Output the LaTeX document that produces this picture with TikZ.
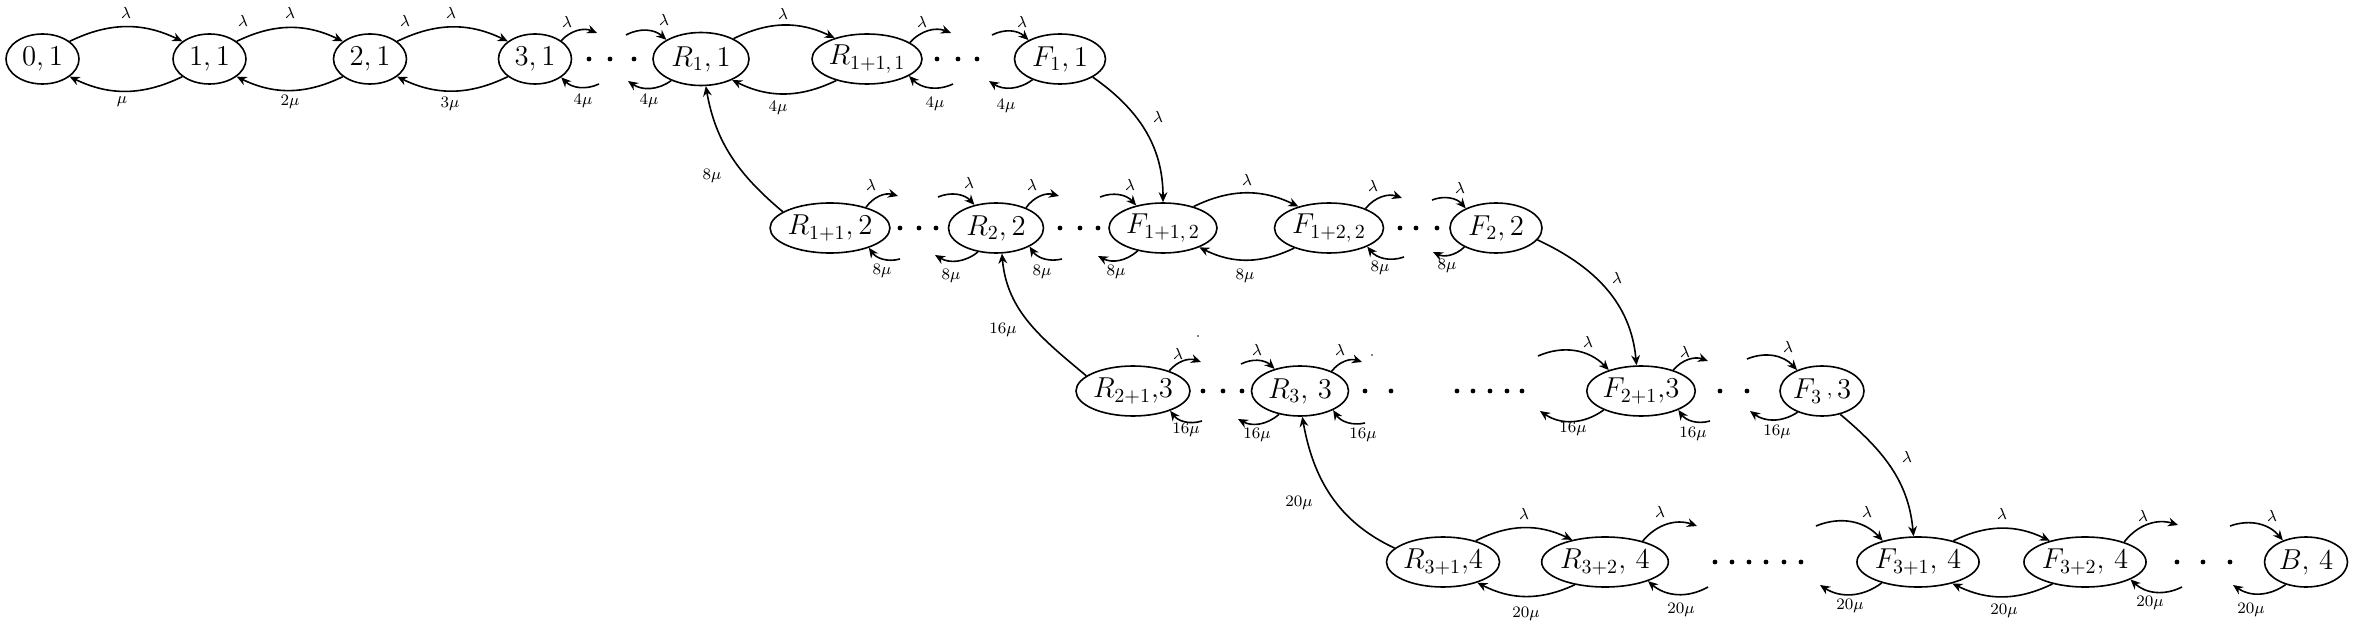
\documentclass[tikz,border=0pt]{standalone}
\usetikzlibrary{arrows.meta,shapes.geometric,calc}
\newcounter{lbc}
\newcommand{\mylab}[2]{\stepcounter{lbc}\node[lbl] (lb\arabic{lbc}) at (#1) {$#2$};}
\begin{document}
\begin{tikzpicture}[x=0.5pt,y=-0.5pt,
  st/.style={ellipse,draw,line width=0.8pt,inner sep=0pt,minimum height=25pt,font=\fontsize{14}{16}\selectfont},
  arr/.style={-{Stealth[length=5pt,width=4.4pt]},line width=0.8pt},
  lbl/.style={inner sep=0pt,font=\fontsize{8.5}{10}\selectfont}]
\useasboundingbox (0,0) rectangle (2357,626);
% ---- row 1
\node[st,minimum width=36.5pt] (n01) at (42.5,59) {$0,1$};
\node[st,minimum width=36.5pt] (n11) at (209.5,59) {$1,1$};
\node[st,minimum width=36.5pt] (n21) at (370,59) {$2,1$};
\node[st,minimum width=36.5pt] (n31) at (535,59) {$3,1$};
\node[st,minimum width=48pt,minimum height=26.5pt] (R11) at (701,59) {$R_1,1$};
\node[st,minimum width=55pt] (R111) at (867,59) {$R_{1+1,\,1}$};
\node[st,minimum width=45.5pt] (F11) at (1060,59) {$F_1,1$};
% ---- row 2
\node[st,minimum width=56pt] (R12) at (830,228) {$R_{1+1},2$};
\node[st,minimum width=47.5pt] (R22) at (996,228) {$R_2,2$};
\node[st,minimum width=54pt] (F112) at (1163,228) {$F_{1+1,\,2}$};
\node[st,minimum width=54.5pt] (F122) at (1329,228) {$F_{1+2,\,2}$};
\node[st,minimum width=46pt] (F22) at (1496,228) {$F_2,2$};
% ---- row 3
\node[st,minimum width=57pt] (R213) at (1133,391) {$R_{2+1}{,}3$};
\node[st,minimum width=48.5pt] (R33) at (1300,391) {$R_3,\,3$};
\node[st,minimum width=54pt] (F213) at (1641,391) {$F_{2+1}{,}3$};
\node[st,minimum width=42pt] (F33) at (1822,391) {$F_{3}\,\raisebox{0.3ex}{$\scriptstyle,$}\,3$};
% ---- row 4
\node[st,minimum width=56.5pt] (R314) at (1443,562) {$R_{3+1}{,}4$};
\node[st,minimum width=55.5pt] (R324) at (1605,562) {$R_{3+2},\,4$};
\node[st,minimum width=54.5pt] (F314) at (1918,562) {$F_{3+1},\,4$};
\node[st,minimum width=54pt] (F324) at (2085,562) {$F_{3+2},\,4$};
\node[st,minimum width=41.5pt] (B4) at (2306,562) {$B,\,4$};

% ---- row 1 arcs
\draw[arr] (n01.33) to[bend left=26] (n11.147);
\draw[arr] (n11.213) to[bend left=26] (n01.327);
\draw[arr] (n11.33) to[bend left=26] (n21.147);
\draw[arr] (n21.213) to[bend left=26] (n11.327);
\draw[arr] (n21.33) to[bend left=26] (n31.147);
\draw[arr] (n31.213) to[bend left=26] (n21.327);
\draw[arr] (R11.32) to[bend left=26] (R111.147);
\draw[arr] (R111.215) to[bend left=26] (R11.326);
\coordinate (a1) at (597,33); \draw[arr] (n31.35) to[bend left=35] (a1);
\coordinate (a2) at (599,84); \draw[arr] (a2) to[bend left=35] (n31.325);
\coordinate (a3) at (626,35); \draw[arr] (a3) to[bend left=35] (R11.151);
\coordinate (a4) at (628,81); \draw[arr] (R11.216) to[bend left=35] (a4);
\coordinate (a5) at (951,33); \draw[arr] (R111.21) to[bend left=35] (a5);
\coordinate (a6) at (953,84); \draw[arr] (a6) to[bend left=35] (R111.338);
\coordinate (a7) at (992,35); \draw[arr] (a7) to[bend left=35] (F11.149);
\coordinate (a8) at (989,81); \draw[arr] (F11.217) to[bend left=35] (a8);
\draw[arr] (F11.331) to[out=-35,in=90] (F112.north);

% ---- row 2 arcs
\draw[arr] (R12.161) to[out=140,in=-80] (R11.280);
\coordinate (b1) at (898,196); \draw[arr] (R12.30) to[bend left=35] (b1);
\coordinate (b2) at (900,259); \draw[arr] (b2) to[bend left=35] (R12.333);
\coordinate (b3) at (938,197); \draw[arr] (b3) to[bend left=35] (R22.133);
\coordinate (b4) at (935,255); \draw[arr] (R22.233) to[bend left=35] (b4);
\coordinate (b5) at (1059,196); \draw[arr] (R22.34) to[bend left=35] (b5);
\coordinate (b6) at (1062,259); \draw[arr] (b6) to[bend left=35] (R22.331);
\coordinate (b7) at (1100,197); \draw[arr] (b7) to[bend left=35] (F112.140);
\coordinate (b8) at (1098,256); \draw[arr] (F112.222) to[bend left=35] (b8);
\draw[arr] (F112.35) to[bend left=26] (F122.145);
\draw[arr] (F122.210) to[bend left=26] (F112.332);
\coordinate (b9) at (1402,198); \draw[arr] (F122.28) to[bend left=35] (b9);
\coordinate (b10) at (1404,257); \draw[arr] (b10) to[bend left=35] (F122.334);
\coordinate (b11) at (1432,200); \draw[arr] (b11) to[bend left=35] (F22.147);
\coordinate (b12) at (1433,252); \draw[arr] (F22.211) to[bend left=35] (b12);
\draw[arr] (F22.344) to[out=-25,in=95] (F213.100);

% ---- row 3 arcs
\draw[arr] (R213.162) to[out=140,in=-85] (R22.283);
\coordinate (c1) at (1201,362); \draw[arr] (R213.29) to[bend left=35] (c1);
\coordinate (c2) at (1202,421); \draw[arr] (c2) to[bend left=35] (R213.332);
\coordinate (c3) at (1241,364); \draw[arr] (c3) to[bend left=35] (R33.139);
\coordinate (c4) at (1238,419); \draw[arr] (R33.228) to[bend left=35] (c4);
\coordinate (c5) at (1362,362); \draw[arr] (R33.32) to[bend left=35] (c5);
\coordinate (c6) at (1365,423); \draw[arr] (c6) to[bend left=35] (R33.330);
\coordinate (c7) at (1538,356); \draw[arr] (c7) to[bend left=35] (F213.147);
\coordinate (c8) at (1540,411); \draw[arr] (F213.207) to[bend left=35] (c8);
\coordinate (c9) at (1708,361); \draw[arr] (F213.33) to[bend left=35] (c9);
\coordinate (c10) at (1710,421); \draw[arr] (c10) to[bend left=35] (F213.333);
\coordinate (c11) at (1747,359); \draw[arr] (c11) to[bend left=35] (F33.140);
\coordinate (c12) at (1750,411); \draw[arr] (F33.221) to[bend left=35] (c12);
\draw[arr] (F33.308) to[out=-40,in=95] (F314.100);

% ---- row 4 arcs
\draw[arr] (R314.164) to[out=155,in=-80] (R33.275);
\draw[arr] (R314.33) to[bend left=26] (R324.146);
\draw[arr] (R324.217) to[bend left=26] (R314.329);
\coordinate (d1) at (1697,526); \draw[arr] (R324.29) to[bend left=35] (d1);
\coordinate (d2) at (1708,587); \draw[arr] (d2) to[bend left=35] (R324.336);
\coordinate (d3) at (1816,526); \draw[arr] (d3) to[bend left=35] (F314.149);
\coordinate (d4) at (1820,585); \draw[arr] (F314.210) to[bend left=35] (d4);
\draw[arr] (F314.31) to[bend left=26] (F324.149);
\draw[arr] (F324.214) to[bend left=26] (F314.328);
\coordinate (d5) at (2178,525); \draw[arr] (F324.27) to[bend left=35] (d5);
\coordinate (d6) at (2182,587); \draw[arr] (d6) to[bend left=35] (F324.339);
\coordinate (d7) at (2230,526); \draw[arr] (d7) to[bend left=35] (B4.137);
\coordinate (d8) at (2233,585); \draw[arr] (B4.228) to[bend left=35] (d8);

% ---- dots
\foreach \x in {589,610,634,937,958,977} \fill (\x,59) circle[radius=1.2pt];
\foreach \x in {900,919,936,1060,1080,1098,1400,1416,1437} \fill (\x,228) circle[radius=1.2pt];
\foreach \x in {1203,1223,1242,1365,1391,1457,1473,1490,1507,1522,1720,1747} \fill (\x,391) circle[radius=1.2pt];
\foreach \x in {1715,1732,1749,1766,1784,1801,2177,2203,2230} \fill (\x,562) circle[radius=1.2pt];
\fill (1198,336) circle[radius=0.4pt];
\fill (1372,355) circle[radius=0.4pt];

% ---- labels row 1
\mylab{126,13}{\lambda}
\mylab{243,21}{\lambda}
\mylab{290,13}{\lambda}
\mylab{405,21}{\lambda}
\mylab{451,13}{\lambda}
\mylab{567,22}{\lambda}
\mylab{664,20}{\lambda}
\mylab{783,14}{\lambda}
\mylab{922,22}{\lambda}
\mylab{1022,22}{\lambda}
\mylab{1158,117}{\lambda}
\mylab{122,102}{\mu}
\mylab{290,102}{2\mu}
\mylab{450,104}{3\mu}
\mylab{583,101}{4\mu}
\mylab{649,101}{4\mu}
\mylab{778,108}{4\mu}
\mylab{935,104}{4\mu}
\mylab{1006,106}{4\mu}
% ---- labels row 2
\mylab{712,176}{8\mu}
\mylab{871,185}{\lambda}
\mylab{882,271}{8\mu}
\mylab{969,183}{\lambda}
\mylab{951,276}{8\mu}
\mylab{1032,185}{\lambda}
\mylab{1042,272}{8\mu}
\mylab{1130,185}{\lambda}
\mylab{1116,272}{8\mu}
\mylab{1247,180}{\lambda}
\mylab{1245,276}{8\mu}
\mylab{1373,186}{\lambda}
\mylab{1380,268}{8\mu}
\mylab{1460,188}{\lambda}
\mylab{1447,266}{8\mu}
\mylab{1617,278}{\lambda}
% ---- labels row 3
\mylab{1003,330}{16\mu}
\mylab{1178,354}{\lambda}
\mylab{1186,430}{16\mu}
\mylab{1257,350}{\lambda}
\mylab{1257,435}{16\mu}
\mylab{1340,350}{\lambda}
\mylab{1363,435}{16\mu}
\mylab{1588,342}{\lambda}
\mylab{1573,429}{16\mu}
\mylab{1685,352}{\lambda}
\mylab{1693,434}{16\mu}
\mylab{1788,347}{\lambda}
\mylab{1777,432}{16\mu}
\mylab{1907,457}{\lambda}
% ---- labels row 4
\mylab{1299,503}{20\mu}
\mylab{1524,514}{\lambda}
\mylab{1526,614}{20\mu}
\mylab{1660,512}{\lambda}
\mylab{1681,610}{20\mu}
\mylab{1867,512}{\lambda}
\mylab{1850,606}{20\mu}
\mylab{2002,514}{\lambda}
\mylab{2004,611}{20\mu}
\mylab{2143,516}{\lambda}
\mylab{2150,603}{20\mu}
\mylab{2272,516}{\lambda}
\mylab{2251,610}{20\mu}
\end{tikzpicture}
\end{document}
